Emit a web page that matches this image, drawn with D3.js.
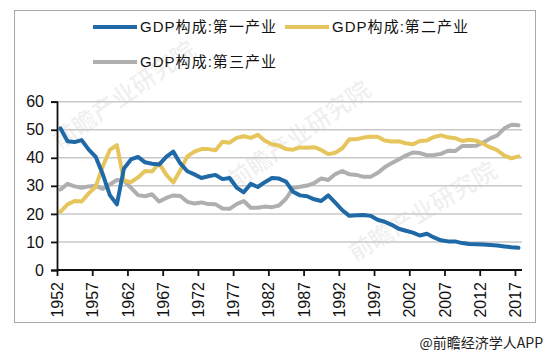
<!DOCTYPE html>
<html>
<head>
<meta charset="utf-8">
<script src="https://cdn.jsdelivr.net/npm/d3@7"></script>
<style>
  body { margin: 0; background: #fff; }
  text { font-family: "Liberation Sans", Arial, "Noto Sans CJK SC", sans-serif; }
</style>
</head>
<body>
<div id="chart-area"></div>
<script>
/*
*    GDP composition chart
*/

var width = 547;
var height = 352;

// Data: share of GDP (%) by sector, 1952 - 2017
var years = d3.range(1952, 2018);
var tickYears = [1952, 1957, 1962, 1967, 1972, 1977, 1982, 1987, 1992, 1997, 2002, 2007, 2012, 2017];
var yTicks = [0, 10, 20, 30, 40, 50, 60];
var seriesNames = ["GDP构成:第一产业", "GDP构成:第二产业", "GDP构成:第三产业"];

var primary = [
  50.5, 45.9, 45.6, 46.3, 42.9, 40.3, 34.1, 26.7, 23.4, 36.2,
  39.4, 40.3, 38.4, 37.9, 37.6, 40.3, 42.2, 38.0, 35.2, 34.1,
  32.8, 33.4, 33.9, 32.4, 32.8, 29.4, 27.7, 30.7, 29.6, 31.3,
  32.8, 32.6, 31.5, 27.9, 26.6, 26.3, 25.2, 24.6, 26.6, 24.0,
  21.3, 19.3, 19.5, 19.6, 19.3, 17.9, 17.2, 16.1, 14.7, 14.0,
  13.3, 12.3, 12.9, 11.6, 10.6, 10.2, 10.2, 9.6, 9.3, 9.2,
  9.1, 8.9, 8.7, 8.4, 8.1, 7.9
];
var secondary = [
  20.8, 23.4, 24.6, 24.4, 27.3, 29.7, 37.0, 42.8, 44.5, 31.9,
  31.3, 33.0, 35.3, 35.1, 38.0, 34.0, 31.2, 35.6, 40.5, 42.2,
  43.1, 43.1, 42.7, 45.7, 45.4, 47.1, 47.7, 47.1, 48.2, 46.1,
  44.8, 44.4, 43.1, 42.9, 43.7, 43.6, 43.8, 42.8, 41.3, 41.8,
  43.4, 46.6, 46.6, 47.2, 47.5, 47.5, 46.2, 45.8, 45.9, 45.2,
  44.8, 46.0, 46.2, 47.4, 48.0, 47.3, 47.0, 46.0, 46.4, 46.1,
  45.0, 43.7, 42.7, 40.8, 39.8, 40.5
];
var tertiary = [
  28.7, 30.7, 29.8, 29.3, 29.8, 30.0, 28.9, 30.5, 32.1, 31.9,
  29.3, 26.7, 26.3, 27.0, 24.4, 25.7, 26.6, 26.4, 24.3, 23.7,
  24.1, 23.5, 23.4, 21.9, 21.8, 23.5, 24.6, 22.2, 22.2, 22.6,
  22.4, 23.0, 25.4, 29.2, 29.7, 30.1, 31.0, 32.6, 32.1, 34.2,
  35.3, 34.1, 33.9, 33.2, 33.2, 34.6, 36.6, 38.1, 39.4, 40.8,
  41.9, 41.7, 40.9, 41.0, 41.4, 42.5, 42.4, 44.2, 44.2, 44.3,
  45.5, 46.9, 48.0, 50.5, 51.8, 51.6
];
var colors = ["#1f69a6", "#e6c55c", "#afafaf"];
var watermarks = ["前瞻产业研究院", "前瞻产业研究院", "前瞻产业研究院"];

var svg = d3.select("#chart-area")
  .append("svg")
    .attr("width", width)
    .attr("height", height);

//Frame
svg.append("rect")
  .attr("x", 14.5)
  .attr("y", 10.5)
  .attr("width", 521)
  .attr("height", 312)
  .attr("fill", "none")
  .attr("stroke", "#a8a8a8")
  .attr("stroke-width", 1);

//Watermarks
var wmPos = [[60, 150, -35], [235, 190, -35], [355, 262, -31]];
svg.append("g")
  .selectAll("text")
  .data(watermarks)
  .enter().append("text")
    .attr("transform", (d, i) => `translate(${wmPos[i][0]}, ${wmPos[i][1]}) rotate(${wmPos[i][2]})`)
    .style("font-family", "'Noto Sans CJK SC', sans-serif")
    .style("font-size", "24px")
    .style("font-weight", "bold")
    .attr("fill", "#000")
    .attr("fill-opacity", 0.06)
    .text(d => d);

//Scales
var x = d3.scaleLinear()
  .domain([1952, 2018])
  .range([57, 522]);

var y = d3.scaleLinear()
  .domain([0, 60])
  .range([270, 101.7]);

//Gridlines
svg.append("g")
  .selectAll("line")
  .data(yTicks.filter(d => d > 0))
  .enter().append("line")
    .attr("x1", x(1952))
    .attr("x2", x(2018))
    .attr("y1", d => y(d))
    .attr("y2", d => y(d))
    .attr("stroke", "#c8c8c8")
    .attr("stroke-width", 1.5);

//Lines
var allSeries = [primary, secondary, tertiary];
var line = d3.line()
  .x((d, i) => x(years[i] + 0.5))
  .y(d => y(d))
  .curve(d3.curveLinear);

svg.append("g")
  .selectAll("path")
  .data([tertiary, secondary, primary])
  .enter().append("path")
    .attr("d", d => line(d))
    .attr("fill", "none")
    .attr("stroke", d => colors[allSeries.indexOf(d)])
    .attr("stroke-width", 4)
    .attr("stroke-linejoin", "round")
    .attr("stroke-linecap", "round");

//Axes
var xAxisCall = d3.axisBottom(x)
  .tickValues(tickYears)
  .tickSize(6)
  .tickFormat(d3.format("d"));

var yAxisCall = d3.axisLeft(y)
  .tickValues(yTicks)
  .tickSize(6)
  .tickPadding(7);

var xAxisGroup = svg.append("g")
  .attr("class", "x-axis")
  .attr("transform", "translate(0, 270)")
  .call(xAxisCall);

xAxisGroup.select(".domain")
  .attr("d", `M${x(1952)},0H${x(2018)}`);

xAxisGroup.selectAll(".tick text")
  .attr("transform", "rotate(-90)")
  .attr("x", -12)
  .attr("y", 0)
  .attr("dy", "0.35em")
  .style("text-anchor", "end");

var yAxisGroup = svg.append("g")
  .attr("class", "y-axis")
  .attr("transform", "translate(57, 0)")
  .call(yAxisCall);

svg.selectAll(".x-axis, .y-axis")
  .style("font-size", "16px")
  .style("font-family", "'Liberation Sans', Arial, sans-serif");
svg.selectAll(".domain, .tick line")
  .attr("stroke", "#111")
  .attr("stroke-width", 1.8);
svg.selectAll(".tick text").attr("fill", "#111");

//Legend
var legendPos = [[93, 27], [285, 27], [93, 62]];
var legend = svg.append("g").attr("class", "legend");
seriesNames.forEach((name, i) => {
  legend.append("line")
    .attr("x1", legendPos[i][0])
    .attr("x2", legendPos[i][0] + 44)
    .attr("y1", legendPos[i][1])
    .attr("y2", legendPos[i][1])
    .attr("stroke", colors[i])
    .attr("stroke-width", 4);

  legend.append("text")
    .attr("x", legendPos[i][0] + 47)
    .attr("y", legendPos[i][1])
    .attr("dy", "0.35em")
    .attr("textLength", 136)
    .attr("lengthAdjust", "spacing")
    .style("font-size", "15px")
    .attr("fill", "#111")
    .text(name);
});

//Source
svg.append("text")
  .attr("x", 543)
  .attr("y", 343)
  .attr("dy", "0.35em")
  .style("text-anchor", "end")
  .style("font-size", "14px")
  .style("font-family", "'Noto Sans CJK SC', sans-serif")
  .attr("fill", "#222")
  .text("@前瞻经济学人APP");
</script>
</body>
</html>
